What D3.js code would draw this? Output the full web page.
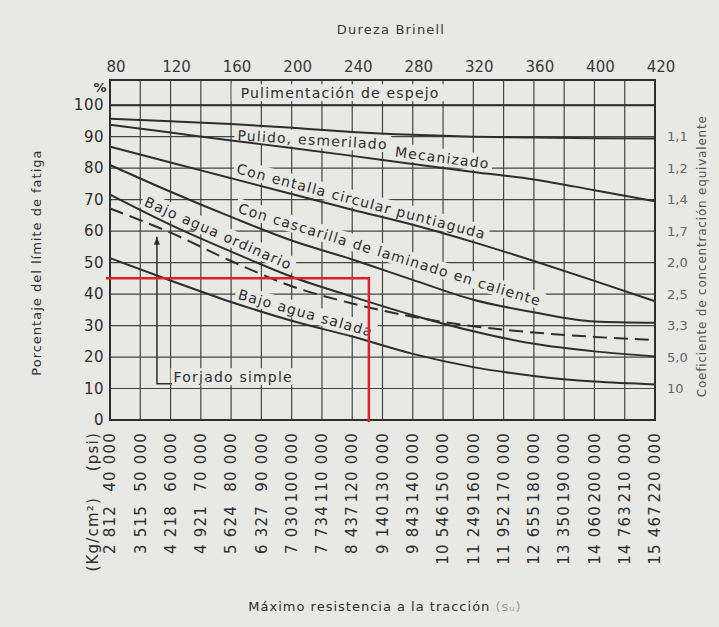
<!DOCTYPE html>
<html>
<head>
<meta charset="utf-8">
<script src="https://cdn.jsdelivr.net/npm/d3@7"></script>
<style>
  body { margin: 0; background: #e8e8e5; }
  svg { display: block; font-family: "DejaVu Sans", sans-serif; }
</style>
</head>
<body>
<div id="chart"></div>
<script>
// resistencia a la tracción (psi) donde se leen las curvas
var psi = [40000, 60000, 80000, 100000, 120000, 140000, 160000, 180000, 200000, 220000];

// porcentaje del límite de fatiga, una lista por acabado
var espejo        = [100, 100, 100, 100, 100, 100, 100, 100, 100, 100];
var pulido        = [95.7, 94.9, 94, 92.8, 91.5, 90.6, 90, 89.7, 89.5, 89.4];
var mecanizado    = [93.8, 91.3, 88.8, 86.4, 83.9, 81.3, 78.8, 76.4, 73, 69.5];
var entalla       = [86.8, 81.8, 76.8, 71.8, 66.8, 62, 56.5, 50.5, 44.2, 37.7];
var cascarilla    = [81, 72.5, 64.5, 57, 51, 44.5, 38.2, 34.2, 31.3, 30.9];
var aguaOrdinaria = [71.6, 62, 53.5, 45.5, 39.2, 33.3, 28.2, 24.2, 21.8, 20.2];
var forjado       = [67.2, 59.5, 50.5, 42.5, 37, 32.8, 29.8, 27.8, 26.4, 25.4];
var aguaSalada    = [51.4, 44.3, 37.5, 31.5, 26.5, 21, 16.8, 14, 12.2, 11.3];

// ejes
var psiTicks = d3.range(40000, 220001, 10000);
var kgTicks = ["2 812", "3 515", "4 218", "4 921", "5 624", "6 327", "7 030", "7 734", "8 437", "9 140",
  "9 843", "10 546", "11 249", "11 952", "12 655", "13 350", "14 060", "14 763", "15 467"];
var brinellTicks = [80, 120, 160, 200, 240, 280, 320, 360, 400, 420];
var brinellPsi = [40000, 60000, 80000, 100000, 120000, 140000, 160000, 180000, 200000, 220000];
var pctTicks = [0, 10, 20, 30, 40, 50, 60, 70, 80, 90, 100];
var coefTicks = ["1,1", "1,2", "1,4", "1,7", "2,0", "2,5", "3,3", "5,0", "10"];
var coefPct = [90, 80, 70, 60, 50, 40, 30, 20, 10];

// lectura marcada en rojo
var lecturaPsi = 125500, lecturaPct = 45;

var width = 719, height = 627, bg = "#e8e8e5", ink = "#2e2e2e";

var svg = d3.select("#chart").append("svg")
  .attr("width", width)
  .attr("height", height);

svg.append("rect").attr("width", width).attr("height", height).attr("fill", bg);

var x = d3.scaleLinear().domain([40000, 220000]).range([110, 655]);
var y = d3.scaleLinear().domain([0, 108]).range([420, 80]);

// rejilla
var grid = svg.append("g").attr("stroke", "#444").attr("stroke-width", 1.2);
grid.selectAll(".v").data(psiTicks).enter().append("line")
  .attr("x1", d => x(d)).attr("x2", d => x(d))
  .attr("y1", y(108)).attr("y2", y(0));
grid.selectAll(".h").data(pctTicks.slice(1)).enter().append("line")
  .attr("x1", x(40000)).attr("x2", x(220000))
  .attr("y1", d => y(d)).attr("y2", d => y(d));

svg.append("rect")
  .attr("x", x(40000)).attr("y", y(108))
  .attr("width", x(220000) - x(40000)).attr("height", y(0) - y(108))
  .attr("fill", "none").attr("stroke", ink).attr("stroke-width", 2);

// rótulos de las curvas
function at(serie, p) {
  return d3.scaleLinear().domain(psi).range(serie)(p);
}

var labels = [
  { text: "Pulimentación de espejo", serie: espejo, psi: 116000, off: 2.2, flat: true, anchor: "middle", pad: 9 },
  { text: "Pulido, esmerilado", serie: pulido, psi: 82000, off: -5 },
  { text: "Mecanizado", serie: mecanizado, psi: 134000, off: 1.6 },
  { text: "Con entalla circular puntiaguda", serie: entalla, psi: 81500, off: 2 },
  { text: "Con cascarilla de laminado en caliente", serie: cascarilla, psi: 82000, off: 2.2 },
  { text: "Bajo agua ordinario", serie: aguaOrdinaria, psi: 51000, off: 1.8 },
  { text: "Bajo agua salada", serie: aguaSalada, psi: 82000, off: 1.6 },
  { text: "Forjado simple", serie: null, psi: 61000, pct: 12, flat: true }
];

var boxes = svg.append("g");
var curves = svg.append("g");
var texts = svg.append("g");

labels.forEach(function (l) {
  var pct = l.serie ? at(l.serie, l.psi) + l.off : l.pct;
  var x0 = x(l.psi), y0 = y(pct);
  var t = texts.append("text")
    .attr("font-size", 14)
    .attr("letter-spacing", 1.2)
    .attr("fill", ink)
    .attr("text-anchor", l.anchor || "start")
    .text(l.text);
  var len = t.node().getComputedTextLength();
  var ang = 0;
  if (!l.flat) {
    for (var k = 0; k < 3; k++) {
      var x1 = x0 + len * Math.cos(ang);
      var y1 = y(at(l.serie, x.invert(x1)) + l.off);
      ang = Math.atan2(y1 - y0, x1 - x0);
    }
  }
  var tr = "translate(" + x0 + "," + y0 + ") rotate(" + (ang * 180 / Math.PI) + ")";
  t.attr("transform", tr);
  var bb = t.node().getBBox();
  var pad = l.pad || 3;
  boxes.append("rect")
    .attr("transform", tr)
    .attr("x", bb.x - pad).attr("y", bb.y - 1)
    .attr("width", bb.width + 2 * pad).attr("height", bb.height + 1)
    .attr("fill", bg);
});

// curvas
var line = d3.line()
  .x((d, i) => x(psi[i]))
  .y(d => y(d))
  .curve(d3.curveMonotoneX);

[espejo, pulido, mecanizado, entalla, cascarilla, aguaOrdinaria, aguaSalada].forEach(function (s) {
  curves.append("path").attr("d", line(s))
    .attr("fill", "none").attr("stroke", ink).attr("stroke-width", 2);
});
curves.append("path").attr("d", line(forjado))
  .attr("fill", "none").attr("stroke", ink).attr("stroke-width", 2)
  .attr("stroke-dasharray", "14,7");

// flecha de "Forjado simple"
var fx = x(55500), fTop = y(at(forjado, 55500) - 3);
curves.append("path")
  .attr("d", "M" + fx + "," + fTop + "V" + y(11.5) + "H" + x(60500))
  .attr("fill", "none").attr("stroke", ink).attr("stroke-width", 1.5);
curves.append("path")
  .attr("d", "M" + (fx - 3) + "," + (fTop + 8) + "L" + fx + "," + fTop + "L" + (fx + 3) + "," + (fTop + 8) + "Z")
  .attr("fill", ink);

// eje izquierdo
var left = svg.append("g").attr("fill", ink).attr("font-size", 15).attr("letter-spacing", 0.5);
left.selectAll("text").data(pctTicks).enter().append("text")
  .attr("x", 104).attr("y", d => y(d)).attr("dy", "0.35em")
  .attr("text-anchor", "end").text(d => d);
svg.append("text").attr("x", 100).attr("y", y(105.5)).attr("dy", "0.35em")
  .attr("text-anchor", "middle").attr("font-size", 13).attr("font-weight", "bold")
  .attr("fill", ink).text("%");
svg.append("text")
  .attr("transform", "translate(41," + y(50) + ") rotate(-90)")
  .attr("text-anchor", "middle").attr("font-size", 13).attr("letter-spacing", 1)
  .attr("fill", ink).text("Porcentaje del límite de fatiga");

// eje superior (dureza Brinell)
svg.append("g").attr("fill", "#3a3a3a").attr("font-size", 15)
  .selectAll("text").data(brinellTicks).enter().append("text")
  .attr("x", (d, i) => x(brinellPsi[i]) + 6).attr("y", 72)
  .attr("text-anchor", "middle").text(d => d);
svg.append("text").attr("x", 391).attr("y", 34).attr("text-anchor", "middle")
  .attr("font-size", 13).attr("letter-spacing", 1.2).attr("fill", "#3a3a3a")
  .text("Dureza Brinell");

// eje derecho (coeficiente)
svg.append("g").attr("fill", "#666").attr("font-size", 13)
  .selectAll("text").data(coefTicks).enter().append("text")
  .attr("x", 667).attr("y", (d, i) => y(coefPct[i])).attr("dy", "0.35em")
  .text(d => d);
svg.append("text")
  .attr("transform", "translate(706," + y(52) + ") rotate(-90)")
  .attr("text-anchor", "middle").attr("font-size", 12).attr("letter-spacing", 0.8)
  .attr("fill", "#555").text("Coeficiente de concentración equivalente");

// eje inferior (psi y Kg/cm²)
var bottom = svg.append("g").attr("fill", ink).attr("font-size", 15).attr("letter-spacing", 1.2);
bottom.selectAll(".psi").data(psiTicks).enter().append("text")
  .attr("transform", d => "translate(" + x(d) + ",432) rotate(-90)")
  .attr("text-anchor", "end").attr("dy", "0.35em")
  .text(d => d3.format(",")(d).replace(",", " "));
bottom.selectAll(".kg").data(kgTicks).enter().append("text")
  .attr("transform", (d, i) => "translate(" + x(psiTicks[i]) + ",505) rotate(-90)")
  .attr("text-anchor", "end").attr("dy", "0.35em")
  .text(d => d);
bottom.append("text").attr("transform", "translate(93,432) rotate(-90)")
  .attr("text-anchor", "end").attr("dy", "0.35em").text("(psi)");
bottom.append("text").attr("transform", "translate(93,497) rotate(-90)")
  .attr("text-anchor", "end").attr("dy", "0.35em").text("(Kg/cm²)");

var titulo = svg.append("text").attr("x", 385).attr("y", 611).attr("text-anchor", "middle")
  .attr("font-size", 13).attr("letter-spacing", 1).attr("fill", ink);
titulo.append("tspan").text("Máximo resistencia a la tracción ");
titulo.append("tspan").attr("fill", "#9a9a9a").text("(sᵤ)");

// lectura en rojo
svg.append("path")
  .attr("d", "M" + (x(40000) - 4) + "," + y(lecturaPct) + "H" + x(lecturaPsi) + "V" + (y(0) + 2))
  .attr("fill", "none").attr("stroke", "#e2202c").attr("stroke-width", 2.5);
</script>
</body>
</html>
